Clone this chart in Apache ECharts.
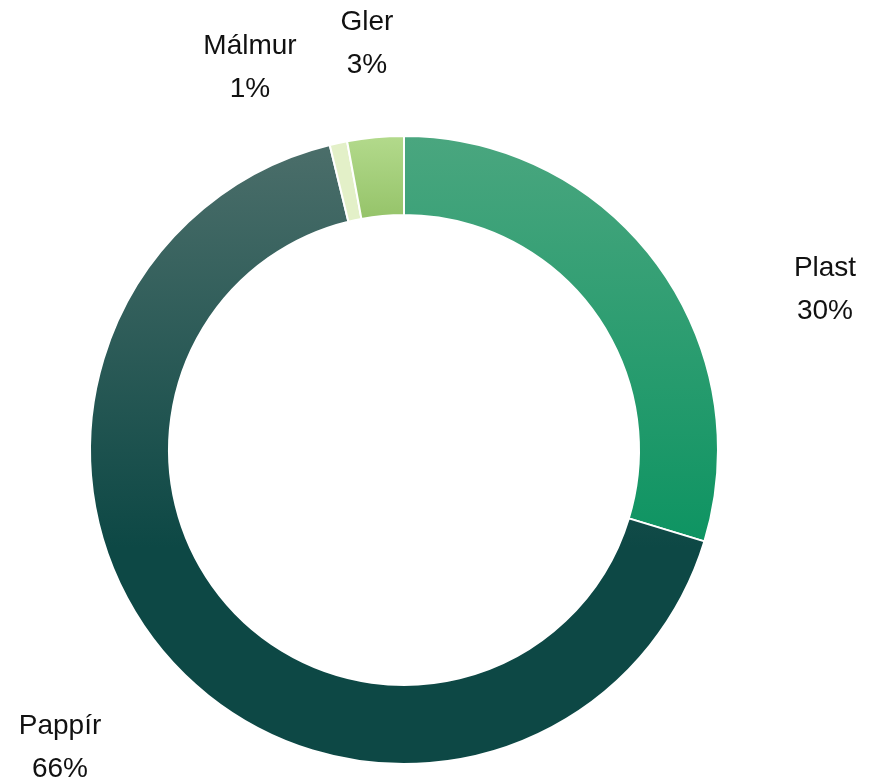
<!DOCTYPE html>
<html>
<head>
<meta charset="utf-8">
<script src="https://cdn.jsdelivr.net/npm/echarts@6/dist/echarts.min.js"></script>
<style>html,body{margin:0;padding:0;background:#fff}#c{width:869px;height:784px}</style>
</head>
<body>
<div id="c"></div>
<script>
const categories = ['Plast', 'Pappír', 'Málmur', 'Gler'];
const values = [29.7, 66.5, 0.9, 2.9];
const labelsPct = ['30%', '66%', '1%', '3%'];

const gradients = [
  ['#4aa67f', '#0e9462', 1],
  ['#4b6e6a', '#0d4845', 0.65],
  ['#e3f0c8', '#e3f0c8', 1],
  ['#b3da8c', '#95c369', 1]
];
const labelPos = [
  [825, 290],
  [60, 748],
  [250, 68],
  [367, 44]
];

const chart = echarts.init(document.getElementById('c'), null, {renderer: 'canvas'});
chart.setOption({
  animation: false,
  series: [{
    type: 'pie',
    center: [404, 450],
    radius: [235, 314],
    startAngle: 90,
    clockwise: true,
    avoidLabelOverlap: false,
    itemStyle: {borderColor: '#fff', borderWidth: 2},
    label: {
      show: true,
      position: 'outside',
      fontFamily: 'Liberation Sans, Arial, sans-serif',
      fontSize: 28,
      lineHeight: 43,
      color: '#111',
      align: 'center',
      formatter: p => p.name + '\n' + labelsPct[p.dataIndex]
    },
    labelLine: {show: false},
    labelLayout: p => ({
      x: labelPos[p.dataIndex][0],
      y: labelPos[p.dataIndex][1],
      align: 'center',
      verticalAlign: 'middle'
    }),
    emphasis: {disabled: true},
    data: categories.map((c, i) => ({
      name: c,
      value: values[i],
      itemStyle: {
        color: new echarts.graphic.LinearGradient(0, 0, 0, 1, [
          {offset: 0, color: gradients[i][0]},
          {offset: gradients[i][2], color: gradients[i][1]},
          {offset: 1, color: gradients[i][1]}
        ])
      }
    }))
  }]
});
</script>
</body>
</html>
